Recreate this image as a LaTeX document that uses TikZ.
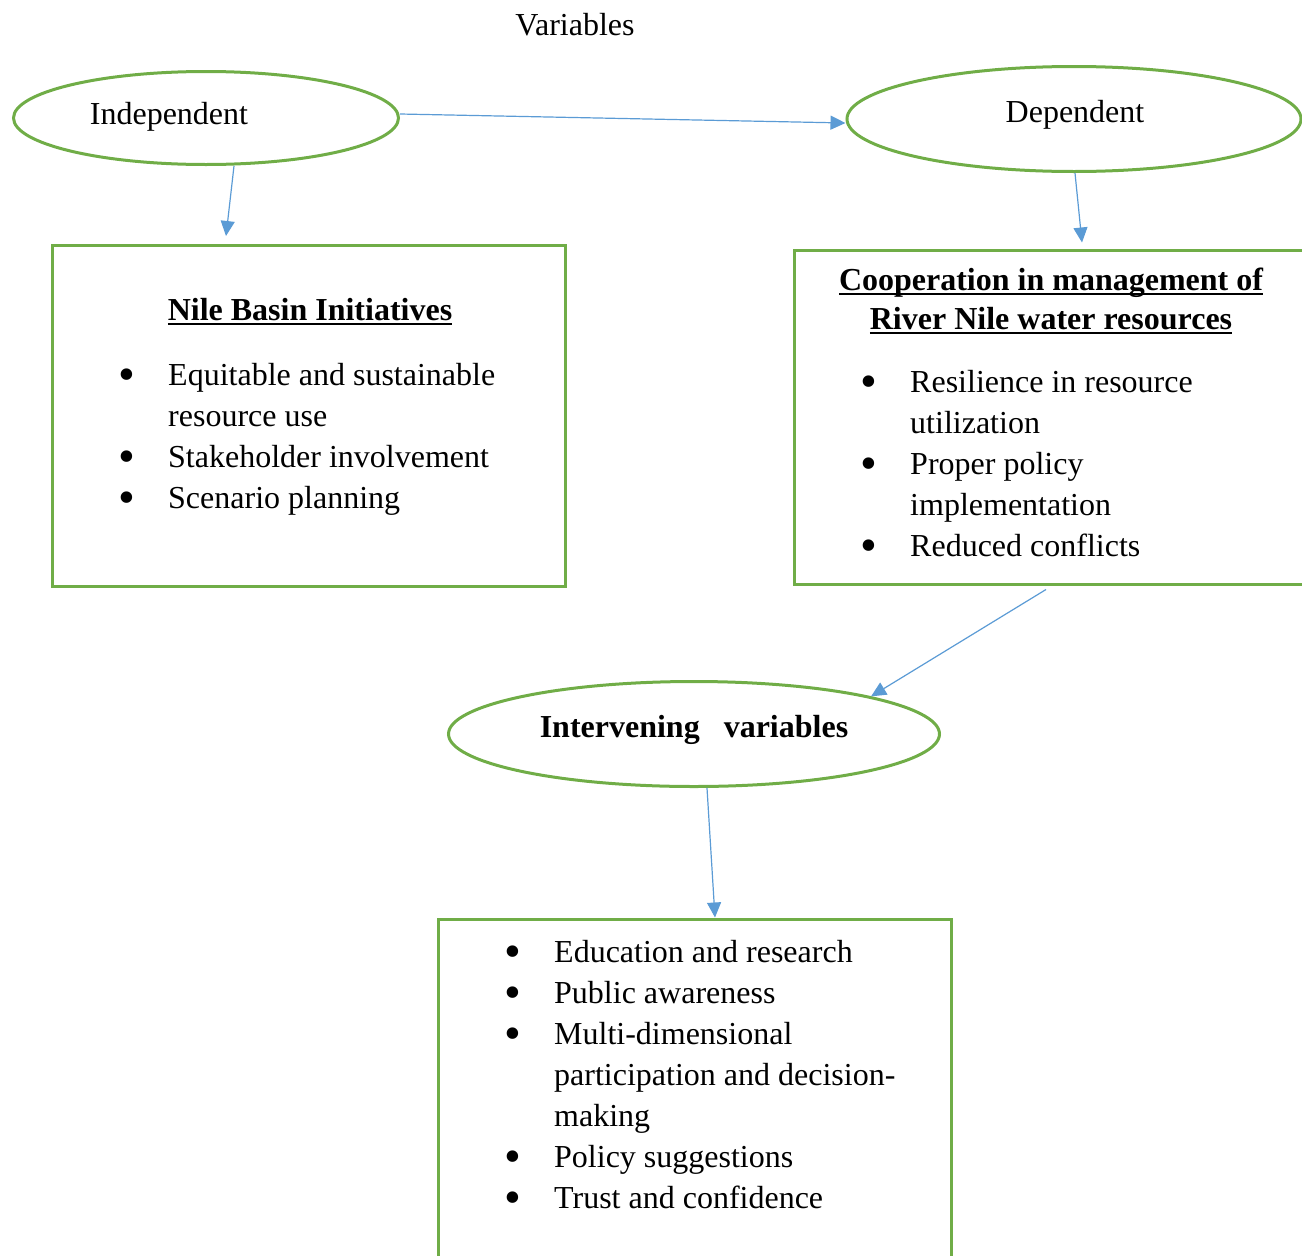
\documentclass[tikz,border=0pt]{standalone}
\usepackage{fontspec}
\setmainfont{Liberation Serif}
\usetikzlibrary{shapes.geometric,arrows.meta}
\definecolor{wgreen}{HTML}{70AD47}
\definecolor{wblue}{HTML}{5B9BD5}
\newcommand\uln[1]{\setbox0\hbox{#1}\rlap{\rule[-5pt]{\wd0}{2.4pt}}\box0}
\newcommand\itm{\llap{\smash{\raisebox{-5pt}{\fontsize{48}{41}\selectfont\textbullet}}\hspace{33pt}}}

\begin{document}
\begin{tikzpicture}[x=1pt, y=-1pt, font=\fontsize{32}{41}\selectfont,
  oval/.style={draw=wgreen, line width=3pt, ellipse, inner sep=0pt},
  box/.style={draw=wgreen, line width=3pt, rectangle, inner sep=0pt},
  link/.style={draw=wblue, line width=1.2pt, -{Triangle[length=15pt,width=14pt]}}]
  \useasboundingbox (0,0) rectangle (1302,1256);
  \clip (0,0) rectangle (1302,1256);

  \node[anchor=base] (vars) at (575,35) {Variables};

  % ovals
  \node[oval, minimum width=385pt, minimum height=93pt] (indep) at (206,118) {};
  \node[anchor=base] (indeptxt) at (169,124) {Independent};
  \node[oval, minimum width=454pt, minimum height=105pt] (dep) at (1074,119) {};
  \node[anchor=base] (deptxt) at (1075,122) {Dependent};
  \node[oval, minimum width=491pt, minimum height=105pt] (inter) at (694,734) {};
  \node[anchor=base, font=\fontsize{32}{41}\selectfont\bfseries] (intertxt) at (694,737) {Intervening~~~variables};

  % boxes
  \node[box, minimum width=513pt, minimum height=341pt] (nbi) at (309,416) {};
  \node[anchor=base, font=\fontsize{32}{41}\selectfont\bfseries] (nbititle) at (310,320) {\uln{Nile Basin Initiatives}};
  \node[anchor=base west, inner sep=0pt] (nbilist) at (168,385) {\begin{tabular}[t]{@{}l@{}}
    \itm Equitable and sustainable\\ resource use\\ \itm Stakeholder involvement\\ \itm Scenario planning
  \end{tabular}};

  \node[box, minimum width=516pt, minimum height=334pt] (coop) at (1052,417) {};
  \node[anchor=base, font=\fontsize{32}{41}\selectfont\bfseries] (cooptitle1) at (1051,290) {\uln{Cooperation in management of}};
  \node[anchor=base, font=\fontsize{32}{41}\selectfont\bfseries] (cooptitle2) at (1051,329) {\uln{River Nile water resources}};
  \node[anchor=base west, inner sep=0pt] (cooplist) at (910,392) {\begin{tabular}[t]{@{}l@{}}
    \itm Resilience in resource\\ utilization\\ \itm Proper policy\\ implementation\\ \itm Reduced conflicts
  \end{tabular}};

  \node[box, minimum width=513pt, minimum height=360pt] (bottom) at (695,1099) {};
  \node[anchor=base west, inner sep=0pt] (bottomlist) at (554,962) {\begin{tabular}[t]{@{}l@{}}
    \itm Education and research\\ \itm Public awareness\\ \itm Multi-dimensional\\ participation and decision-\\ making\\ \itm Policy suggestions\\ \itm Trust and confidence
  \end{tabular}};

  % arrows
  \draw[link] ([yshift=4pt]indep.east) -- ([yshift=-4pt]dep.west);
  \draw[link] ([xshift=28pt]indep.south) -- ([xshift=-83pt,yshift=8pt]nbi.north);
  \draw[link] ([xshift=1pt]dep.south) -- ([xshift=30pt,yshift=6pt]coop.north);
  \draw[link] ([xshift=-6pt,yshift=-4pt]coop.south) -- (inter.12);
  \draw[link] ([xshift=13pt]inter.south) -- ([xshift=20pt]bottom.north);
\end{tikzpicture}
\end{document}
